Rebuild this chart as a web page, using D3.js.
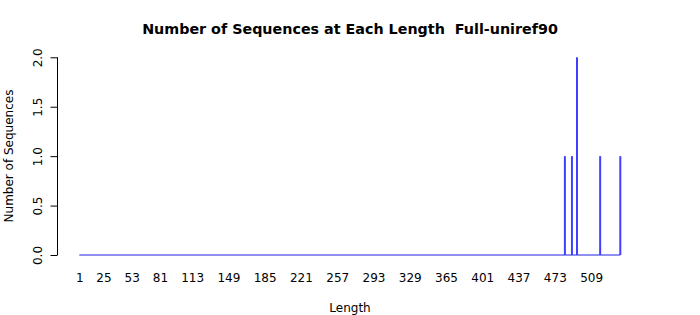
<!DOCTYPE html>
<html>
<head>
<meta charset="utf-8">
<script src="https://cdn.jsdelivr.net/npm/d3@7"></script>
<style>
  body { margin: 0; background: #fff; }
  text { font-family: "DejaVu Sans", sans-serif; }
</style>
</head>
<body>
<div id="graf"></div>
<script>
// lengths that have sequences, and how many
const lengths = [483, 490, 495, 518, 538]
const counts = [1, 1, 2, 1, 1]
const lengthRange = [1, 538]
const xTicks = [1, 25, 53, 81, 113, 149, 185, 221, 257, 293, 329, 365, 401, 437, 473, 509]
const yTicks = [0, 0.5, 1, 1.5, 2]

const W = 700, H = 315
const svg = d3.select('#graf').append('svg')
  .attr('width', W).attr('height', H)

const x = d3.scaleLinear().domain(lengthRange).range([79.3, 620.3])
const y = d3.scaleLinear().domain([0, 2]).range([255, 57.3])

// y axis
const yAxis = svg.append('g')
  .attr('transform', 'translate(57.5,0)')
  .call(d3.axisLeft(y).tickValues(yTicks).tickSize(7).tickFormat(d3.format('.1f')))
yAxis.select('.domain').attr('stroke', '#000').attr('d', `M0,${y(0)}V${y(2)}`)
yAxis.selectAll('.tick line').attr('stroke', '#000')
yAxis.selectAll('.tick text')
  .attr('font-size', 12)
  .attr('fill', '#000')
  .attr('text-anchor', 'middle')
  .attr('dy', null)
  .attr('x', null)
  .attr('transform', 'translate(-20,0) rotate(-90)')
  .attr('y', 0)
  .attr('dominant-baseline', 'central')

// x labels only
const xAxis = svg.append('g')
  .attr('transform', 'translate(0,270)')
  .call(d3.axisBottom(x).tickValues(xTicks).tickSize(0).tickFormat(d => d))
xAxis.select('.domain').remove()
xAxis.selectAll('.tick text').attr('font-size', 12).attr('fill', '#000').attr('y', 3)

// zero line across all lengths
svg.append('line')
  .attr('x1', x(lengthRange[0])).attr('x2', x(lengthRange[1]))
  .attr('y1', y(0)).attr('y2', y(0))
  .attr('stroke', '#2020e0').attr('stroke-width', 1)

// spikes
svg.selectAll('.spike').data(lengths).enter().append('line')
  .attr('class', 'spike')
  .attr('x1', d => x(d)).attr('x2', d => x(d))
  .attr('y1', y(0)).attr('y2', (d, i) => y(counts[i]))
  .attr('stroke', '#3f3fff').attr('stroke-width', 2)

svg.append('text')
  .attr('x', 350).attr('y', 34)
  .attr('text-anchor', 'middle')
  .attr('font-size', 14.3).attr('font-weight', 'bold')
  .style('white-space', 'pre')
  .text('Number of Sequences at Each Length  Full-uniref90')

svg.append('text')
  .attr('x', 350).attr('y', 312)
  .attr('text-anchor', 'middle')
  .attr('font-size', 12)
  .text('Length')

svg.append('text')
  .attr('transform', 'translate(13,156) rotate(-90)')
  .attr('text-anchor', 'middle')
  .attr('font-size', 12)
  .text('Number of Sequences')
</script>
</body>
</html>
